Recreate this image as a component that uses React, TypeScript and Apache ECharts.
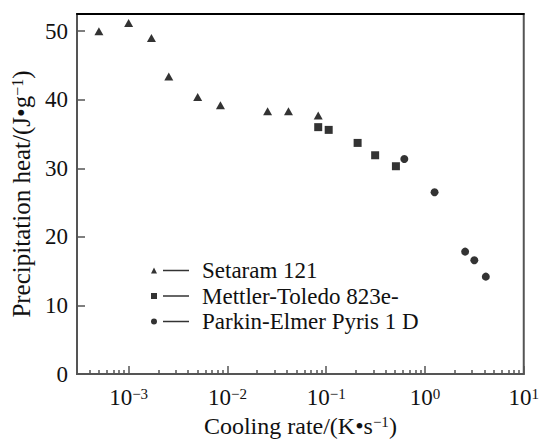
import React, { useEffect, useRef } from 'react';
import * as echarts from 'echarts';

const seriesNames = ['Setaram 121', 'Mettler-Toledo 823e-', 'Parkin-Elmer Pyris 1 D'];

const setaramRate = [5e-4, 1e-3, 1.7e-3, 2.55e-3, 5e-3, 8.5e-3, 0.0255, 0.0415, 0.083];
const setaramHeat = [50.0, 51.2, 49.0, 43.4, 40.4, 39.2, 38.3, 38.3, 37.7];

const mettlerRate = [0.083, 0.106, 0.208, 0.313, 0.508];
const mettlerHeat = [36.0, 35.6, 33.7, 31.9, 30.3];

const parkinRate = [0.618, 1.25, 2.55, 3.16, 4.13];
const parkinHeat = [31.35, 26.5, 17.85, 16.6, 14.2];

const xMajorTicks = [0.001, 0.01, 0.1, 1, 10];
const yTicks = [0, 10, 20, 30, 40, 50];

const xMinorTicks: number[] = [];
for (let e = -4; e <= 0; e++) {
  for (let m = 2; m <= 9; m++) {
    const v = m * Math.pow(10, e);
    if (v > 3.5e-4 && v < 10) xMinorTicks.push(v);
  }
}

const FONT = '"Liberation Serif", "Times New Roman", serif';
const AXIS_COLOR = '#555';

const legendIcons = [
  'path://M0,6 L3,0 L6,6 Z M12,2.3 L38,2.3 L38,3.7 L12,3.7 Z',
  'path://M0,0 L6,0 L6,6 L0,6 Z M12,2.3 L38,2.3 L38,3.7 L12,3.7 Z',
  'path://M0,3 A3,3 0 1 1 6,3 A3,3 0 1 1 0,3 Z M12,2.3 L38,2.3 L38,3.7 L12,3.7 Z',
];

const zip = (xs: number[], ys: number[]) => xs.map((x, i) => [x, ys[i]]);

const supRich = {
  b: { fontSize: 23, fontFamily: FONT, color: '#111', verticalAlign: 'bottom' as const },
  sup: { fontSize: 15, fontFamily: FONT, color: '#111', verticalAlign: 'top' as const },
};

export default function App() {
  const ref = useRef<HTMLDivElement>(null);
  useEffect(() => {
    if (!ref.current) return;
    const chart = echarts.init(ref.current, null, { renderer: 'svg' });
    const option: any = {
      animation: false,
      backgroundColor: '#fff',
      grid: {
        left: 77,
        right: 6,
        top: 14,
        bottom: 60,
        show: true,
        borderColor: AXIS_COLOR,
        borderWidth: 2,
      },
      legend: {
        orient: 'vertical',
        left: 151,
        top: 259,
        padding: 0,
        itemWidth: 38,
        itemHeight: 6,
        itemGap: 2.5,
        data: seriesNames.map((n, i) => ({ name: n, icon: legendIcons[i] })),
        textStyle: {
          fontFamily: FONT,
          fontSize: 23,
          color: '#111',
          lineHeight: 22,
          padding: [0, 0, 0, 8],
        },
      },
      xAxis: [
        {
          type: 'log',
          logBase: 10,
          min: 3e-4,
          max: 10,
          position: 'bottom',
          name: 'Cooling rate/(K•s{sup|−1})',
          nameLocation: 'middle',
          nameGap: 40,
          nameTextStyle: {
            fontFamily: FONT,
            fontSize: 24,
            color: '#111',
            rich: {
              sup: { fontSize: 15, fontFamily: FONT, color: '#111', verticalAlign: 'top' },
            },
          },
          axisLine: { show: true, lineStyle: { color: AXIS_COLOR, width: 2 } },
          axisTick: {
            show: true,
            inside: true,
            length: 8,
            customValues: xMajorTicks,
            lineStyle: { color: AXIS_COLOR, width: 1.5 },
          },
          minorTick: { show: false },
          splitLine: { show: false },
          axisLabel: {
            customValues: xMajorTicks,
            margin: 12,
            formatter: (v: number) => {
              const e = Math.round(Math.log10(v));
              const s = e < 0 ? '−' + -e : String(e);
              return '{b|10}{sup|' + s + '}';
            },
            rich: supRich,
          },
        },
        {
          type: 'log',
          logBase: 10,
          min: 3e-4,
          max: 10,
          position: 'bottom',
          offset: 0,
          axisLine: { show: false },
          axisTick: {
            show: true,
            inside: true,
            length: 4,
            customValues: xMinorTicks,
            lineStyle: { color: AXIS_COLOR, width: 1.5 },
          },
          axisLabel: { show: false },
          splitLine: { show: false },
        },
        {
          type: 'log',
          logBase: 10,
          min: 3e-4,
          max: 10,
          position: 'top',
          axisLine: { show: true, lineStyle: { color: '#000', width: 2 } },
          axisTick: { show: false },
          axisLabel: { show: false },
          splitLine: { show: false },
        },
      ],
      yAxis: {
        type: 'value',
        min: 0,
        max: 52.5,
        name: 'Precipitation heat/(J•g{sup|−1})',
        nameLocation: 'middle',
        nameGap: 40,
        nameTextStyle: {
          fontFamily: FONT,
          fontSize: 25,
          color: '#111',
          rich: {
            sup: { fontSize: 16, fontFamily: FONT, color: '#111', verticalAlign: 'top' },
          },
        },
        axisLine: { show: true, lineStyle: { color: AXIS_COLOR, width: 2 } },
        axisTick: {
          show: true,
          inside: true,
          length: 8,
          customValues: yTicks,
          lineStyle: { color: AXIS_COLOR, width: 1.5 },
        },
        splitLine: { show: false },
        axisLabel: {
          customValues: yTicks,
          margin: 9,
          fontFamily: FONT,
          fontSize: 23,
          color: '#111',
        },
      },
      series: [
        {
          name: seriesNames[0],
          type: 'scatter',
          symbol: 'triangle',
          symbolSize: [9, 8],
          itemStyle: { color: '#000' },
          data: zip(setaramRate, setaramHeat),
        },
        {
          name: seriesNames[1],
          type: 'scatter',
          symbol: 'rect',
          symbolSize: 8,
          itemStyle: { color: '#000' },
          data: zip(mettlerRate, mettlerHeat),
        },
        {
          name: seriesNames[2],
          type: 'scatter',
          symbol: 'circle',
          symbolSize: 8,
          itemStyle: { color: '#000' },
          data: zip(parkinRate, parkinHeat),
        },
      ],
    };
    chart.setOption(option);
    return () => chart.dispose();
  }, []);
  return (
    <div
      ref={ref}
      style={{ position: 'absolute', left: 0, top: 0, width: 542, height: 443, background: '#fff' }}
    />
  );
}
